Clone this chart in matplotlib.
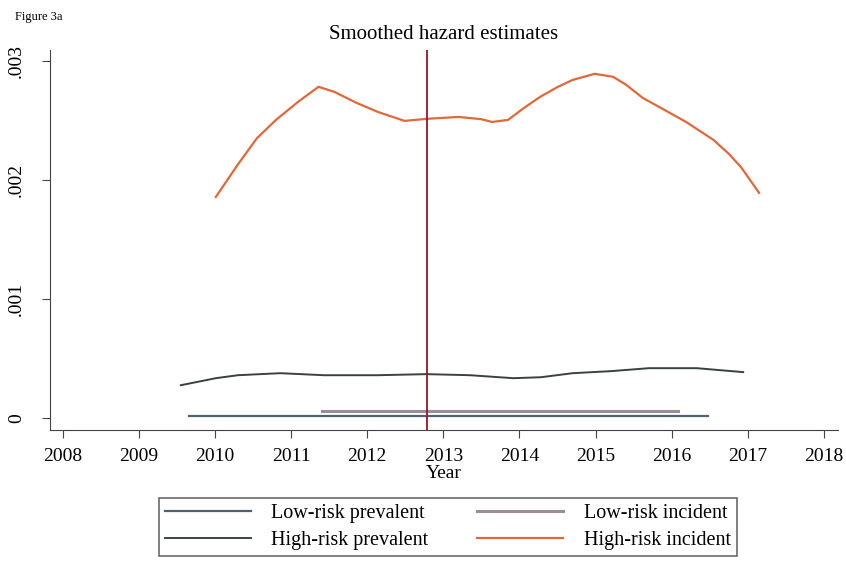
import numpy as np
import matplotlib.pyplot as plt

plt.rcParams["font.family"] = ["Liberation Serif", "DejaVu Serif"]

# high-risk incident
hi_inc_year = [2010.01, 2010.30, 2010.55, 2010.80, 2011.10, 2011.36, 2011.57, 2011.85,
               2012.14, 2012.49, 2012.78, 2013.20, 2013.50, 2013.64, 2013.85, 2014.05,
               2014.27, 2014.50, 2014.70, 2014.99, 2015.23, 2015.40, 2015.62, 2015.90,
               2016.19, 2016.55, 2016.75, 2016.91, 2017.15]
hi_inc = [1.857, 2.13, 2.35, 2.504, 2.66, 2.782, 2.739, 2.65,
          2.571, 2.496, 2.513, 2.529, 2.51, 2.487, 2.504, 2.60,
          2.697, 2.78, 2.840, 2.891, 2.866, 2.80, 2.689, 2.59,
          2.487, 2.336, 2.22, 2.109, 1.891]

# high-risk prevalent
hi_prev_year = [2009.55, 2010.01, 2010.30, 2010.86, 2011.43, 2012.14, 2012.78, 2013.35,
                2013.92, 2014.28, 2014.70, 2015.20, 2015.70, 2016.33, 2016.94]
hi_prev = [0.277, 0.336, 0.361, 0.378, 0.361, 0.361, 0.370, 0.361,
           0.336, 0.344, 0.378, 0.395, 0.420, 0.420, 0.387]

# low-risk prevalent / incident (flat)
lo_prev_year = [2009.66, 2016.48]
lo_prev = [0.017, 0.017]
lo_inc_year = [2011.40, 2016.08]
lo_inc = [0.060, 0.060]

scale = 1e-3
vline_year = 2012.78

fig = plt.figure(figsize=(8.46, 5.63), dpi=100)
ax = fig.add_axes([0.059, 0.236, 0.931, 0.675])

l1, = ax.plot(lo_prev_year, np.array(lo_prev) * scale, color="#4f6272", lw=1.6, label="Low-risk prevalent")
l2, = ax.plot(lo_inc_year, np.array(lo_inc) * scale, color="#9a8f98", lw=2.2, label="Low-risk incident")
l3, = ax.plot(hi_prev_year, np.array(hi_prev) * scale, color="#3a423e", lw=1.4, label="High-risk prevalent")
l4, = ax.plot(hi_inc_year, np.array(hi_inc) * scale, color="#e0683a", lw=1.6, label="High-risk incident")
ax.axvline(vline_year, color="#8b1a2a", lw=1.3)

ax.set_xlim(2007.83, 2018.18)
ax.set_ylim(-0.0001, 0.00309)
ax.set_xticks(range(2008, 2019))
ax.set_yticks([0, 0.001, 0.002, 0.003])
ax.set_yticklabels(["0", ".001", ".002", ".003"], rotation=90, va="center")
ax.tick_params(labelsize=14, color="#444444", length=6)
ax.tick_params(axis="x", pad=7)
ax.tick_params(axis="y", pad=12)
for s in ["top", "right"]:
    ax.spines[s].set_visible(False)
for s in ["left", "bottom"]:
    ax.spines[s].set_color("#444444")

ax.set_xlabel("Year", fontsize=14, labelpad=0)
ax.set_title("Smoothed hazard estimates", fontsize=15, pad=8)
fig.text(0.018, 0.965, "Figure 3a", fontsize=9)

leg = ax.legend([l1, l3, l2, l4], [h.get_label() for h in [l1, l3, l2, l4]],
                loc="upper center", bbox_to_anchor=(0.505, -0.179), ncol=2, frameon=True,
                fancybox=False, edgecolor="#444444", fontsize=14.5, handlelength=4.3,
                handletextpad=1.0, columnspacing=2.4, borderpad=0.3, labelspacing=0.4,
                borderaxespad=0)
leg.get_frame().set_linewidth(1.2)

fig.savefig("out.png", dpi=100)
